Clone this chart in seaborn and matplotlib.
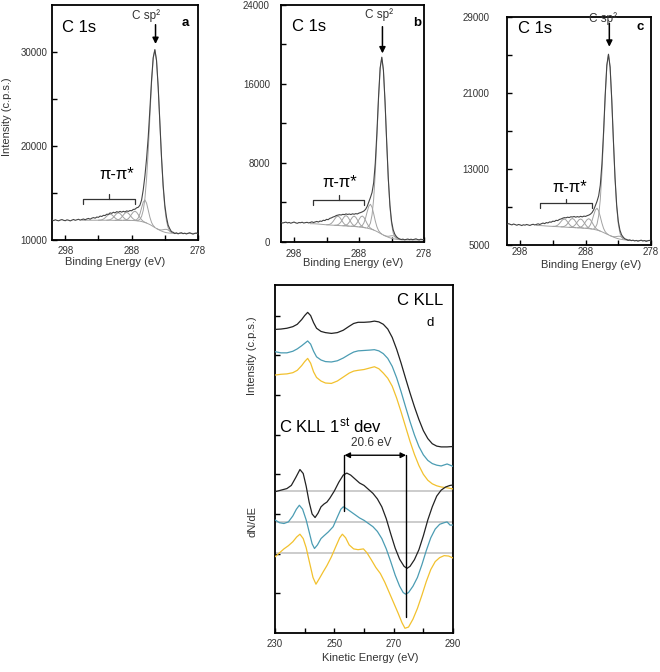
import matplotlib
matplotlib.use('Agg')
import matplotlib.pyplot as plt
import matplotlib.transforms as mtrans
from matplotlib.ticker import FixedLocator
import seaborn as sns

sns.set_theme(style='white')
plt.rcParams['font.family'] = ['Liberation Sans', 'DejaVu Sans']
plt.rcParams['mathtext.fontset'] = 'custom'
plt.rcParams['mathtext.rm'] = 'Liberation Sans'
plt.rcParams['mathtext.it'] = 'Liberation Sans:italic'
plt.rcParams['mathtext.bf'] = 'Liberation Sans:bold'
plt.rcParams['axes.unicode_minus'] = False

# ---------------- XPS C 1s data (binding energy grid, 0.25 eV steps 300 -> 278) --------------
binding_energy = [300 - 0.25 * i for i in range(89)]

raw_a = [12130, 12060, 12150, 12080, 12040, 12120, 12170, 12090, 12050, 12140,
         12100, 12030, 12110, 12180, 12090, 12150, 12200, 12110, 12180, 12230,
         12150, 12240, 12290, 12210, 12320, 12380, 12320, 12440, 12410, 12540,
         12500, 12620, 12600, 12740, 12720, 12880, 12830, 12950, 12880, 13010,
         12950, 13040, 12960, 13050, 12980, 13090, 13040, 13130, 13110, 13250,
         13270, 13420, 13480, 13700, 14250, 15350, 16800, 18650, 20950, 23900,
         27000, 29400, 30250, 29100, 26270, 22550, 18830, 15800, 13700, 12420,
         11570, 11190, 10880, 10820, 10680, 10760, 10650, 10730, 10770, 10670,
         10720, 10640, 10710, 10770, 10690, 10620, 10700, 10740, 10650]
raw_b = [1990, 1920, 1970, 2010, 1930, 1980, 1900, 1960, 2020, 1940,
         1890, 1970, 1950, 2000, 1920, 1960, 1990, 1930, 1980, 2040,
         1970, 2030, 2080, 2020, 2120, 2090, 2200, 2170, 2290, 2260,
         2390, 2440, 2530, 2580, 2680, 2720, 2760, 2730, 2800, 2770,
         2840, 2790, 2830, 2780, 2850, 2810, 2870, 2840, 2930, 2980,
         3050, 3140, 3300, 3600, 4050, 4500, 5010, 6000, 8000, 11100,
         14700, 17640, 18710, 17410, 14180, 10170, 6450, 3740, 2100, 1240,
         790, 540, 390, 300, 250, 290, 220, 260, 300, 240,
         280, 230, 270, 320, 250, 210, 280, 240, 260]
raw_c = [7180, 7250, 7170, 7120, 7210, 7150, 7080, 7160, 7120, 7050,
         7130, 7090, 7160, 7110, 7060, 7140, 7180, 7110, 7170, 7230,
         7160, 7240, 7310, 7250, 7360, 7320, 7430, 7400, 7510, 7480,
         7600, 7570, 7690, 7740, 7820, 7880, 7860, 7930, 7890, 7970,
         7950, 8000, 7930, 7990, 7940, 8020, 7960, 8040, 8010, 8090,
         8150, 8250, 8420, 8720, 9150, 9600, 10180, 11300, 13530, 16900,
         20790, 23930, 25080, 23720, 20300, 16050, 12100, 9220, 7480, 6560,
         6070, 5830, 5640, 5590, 5490, 5540, 5460, 5510, 5430, 5480,
         5400, 5460, 5510, 5420, 5470, 5380, 5440, 5490, 5410]

base_a = ([12100] * 37 + [12090] * 8 + [12080] * 4 +
          [12070, 12060, 12045, 12030, 12000, 11960, 11910, 11860, 11800, 11720,
           11640, 11540, 11430, 11320, 11220, 11120, 11030, 10950, 10880, 10820,
           10780, 10750, 10730, 10720, 10710] + [10700] * 15)
base_b = ([1850] * 21 + [1840, 1830, 1815, 1800, 1785, 1770, 1755, 1740] +
          [1730, 1720, 1710, 1700, 1690, 1680, 1670, 1660, 1650, 1640, 1630, 1620,
           1610, 1600, 1590, 1580, 1570] +
          [1555, 1540, 1520, 1500, 1480, 1455, 1430, 1400, 1360, 1320, 1270, 1210,
           1140, 1060, 970, 880, 790, 700, 620, 550, 480, 420, 370, 330, 300, 275,
           255, 240, 230, 222, 215] + [210] * 12)
base_c = ([7050] * 21 + [7040, 7030, 7015, 7000, 6990, 6980, 6970, 6960] +
          [6950, 6940, 6930, 6920, 6910, 6900, 6890, 6880, 6870, 6860, 6850, 6840,
           6830, 6820, 6810, 6800, 6790, 6780, 6770, 6760] +
          [6740, 6720, 6700, 6680, 6650, 6610, 6570, 6520, 6460, 6390, 6310, 6230,
           6150, 6070, 5990, 5910, 5840, 5770, 5710, 5660, 5620, 5590, 5560, 5540,
           5520, 5505, 5490, 5480] + [5470] * 12)

# fitted component peak shapes (half profiles, 0.25 eV steps from the centre)
shape_templates = {
    'pi':     [1, 0.902, 0.662, 0.395, 0.192, 0.076, 0.024, 0.006],
    'narrow': [1, 0.882, 0.607, 0.325, 0.135, 0.044, 0.011],
    'main_a': [1, 0.946, 0.801, 0.607, 0.411, 0.249, 0.135, 0.066, 0.029, 0.011, 0.004],
    'main_bc': [1, 0.933, 0.757, 0.535, 0.328, 0.175, 0.082, 0.033, 0.012, 0.004],
}
comp_centers = [291.25, 290.0, 288.75, 287.5, 286.0, 284.5, 282.75]
comp_centers_bc = [291.25, 290.0, 288.75, 287.5, 286.25, 284.5, 282.75]
comp_heights_a = [650, 800, 850, 1000, 2400, 18900, 350]
comp_heights_b = [950, 1050, 1050, 1150, 2500, 17900, 300]
comp_heights_c = [850, 950, 950, 1050, 2300, 19000, 300]
comp_shapes_a = ['pi', 'pi', 'pi', 'pi', 'narrow', 'main_a', 'narrow']
comp_shapes_bc = ['pi', 'pi', 'pi', 'pi', 'pi', 'main_bc', 'narrow']

# ---------------- Auger C KLL data (panel d) ----------------
auger_energy = [230, 232, 234, 236, 237.5, 239, 240, 241, 242, 243,
                244, 245.5, 247, 249, 251, 253, 255, 256.5, 258, 260,
                262, 263.5, 265, 266.5, 268, 269.5, 271, 272.5, 274, 275.5,
                277, 278.5, 280, 281.5, 283, 284.5, 286, 288, 290]
auger_black = [7.65, 7.66, 7.68, 7.72, 7.78, 7.90, 8.00, 8.08, 8.00, 7.82,
               7.68, 7.60, 7.57, 7.55, 7.57, 7.63, 7.73, 7.80, 7.83, 7.83,
               7.84, 7.86, 7.84, 7.78, 7.66, 7.45, 7.15, 6.80, 6.42, 6.05,
               5.70, 5.38, 5.10, 4.90, 4.77, 4.71, 4.69, 4.69, 4.70]
auger_teal = [7.09, 7.06, 7.06, 7.10, 7.16, 7.24, 7.30, 7.36, 7.28, 7.10,
              6.96, 6.88, 6.84, 6.83, 6.86, 6.93, 7.02, 7.08, 7.11, 7.12,
              7.13, 7.14, 7.11, 7.04, 6.92, 6.72, 6.43, 6.08, 5.70, 5.33,
              4.99, 4.70, 4.49, 4.35, 4.27, 4.23, 4.21, 4.26, 4.20]
auger_yellow = [6.50, 6.52, 6.53, 6.56, 6.62, 6.74, 6.84, 6.92, 6.80, 6.58,
                6.44, 6.35, 6.30, 6.29, 6.35, 6.45, 6.55, 6.60, 6.62, 6.64,
                6.68, 6.71, 6.66, 6.55, 6.42, 6.22, 5.92, 5.57, 5.20, 4.83,
                4.50, 4.22, 4.00, 3.85, 3.76, 3.71, 3.68, 3.66, 3.63]

dev_black_e = [230, 232, 234, 235.5, 237, 238.4, 239.5, 240.5, 241.5, 242.5,
               243.5, 244.5, 245.5, 246.5, 247.5, 248.5, 250, 251.5, 253, 254.2,
               255.5, 257, 258.5, 260, 261.5, 263, 264.5, 266, 267.5, 269,
               270.5, 272, 273.5, 274.5, 275.5, 277, 278.5, 280, 281.5, 283,
               284.5, 286, 287.5, 289, 290]
dev_black = [3.56, 3.60, 3.64, 3.72, 3.92, 4.12, 4.02, 3.70, 3.30, 3.00,
             2.91, 3.02, 3.18, 3.25, 3.30, 3.40, 3.58, 3.80, 3.98, 4.03,
             3.98, 3.88, 3.78, 3.72, 3.62, 3.52, 3.38, 3.18, 2.88, 2.50,
             2.14, 1.86, 1.68, 1.63, 1.68, 1.85, 2.10, 2.45, 2.85, 3.18,
             3.45, 3.60, 3.68, 3.72, 3.73]
dev_teal_e = [230, 231.5, 233, 234.5, 236, 237.2, 238.2, 239.3, 240.5, 241.5,
              242.5, 243.3, 244.3, 245.5, 246.5, 248, 249.6, 251, 252.2, 253,
              254, 255.5, 257, 258.5, 260, 261.5, 263, 264.5, 266, 267.5,
              269, 270.5, 272, 273.2, 274, 275, 276.5, 278, 279.5, 281,
              282.5, 284, 285.5, 287, 288, 289, 290]
dev_teal = [2.85, 2.78, 2.76, 2.80, 2.95, 3.12, 3.22, 3.12, 2.85, 2.55,
            2.25, 2.13, 2.22, 2.38, 2.45, 2.55, 2.68, 2.92, 3.12, 3.18,
            3.14, 3.06, 2.98, 2.90, 2.84, 2.76, 2.68, 2.56, 2.38, 2.12,
            1.80, 1.46, 1.18, 1.02, 0.98, 1.02, 1.18, 1.40, 1.72, 2.08,
            2.40, 2.62, 2.74, 2.78, 2.80, 2.72, 2.72]
dev_yellow_e = [230, 231.5, 233, 234.5, 236, 237.3, 238.4, 239.5, 240.5, 241.5,
                242.8, 243.8, 245, 246.3, 247.5, 249, 250.5, 251.8, 252.7, 253.8,
                255, 256.5, 258, 259.8, 261, 262.5, 264, 265.5, 267, 268.5,
                270, 271.5, 272.8, 273.8, 275, 276.5, 278, 279.5, 281, 282.5,
                284, 285.5, 287, 288.5, 290]
dev_yellow = [1.92, 2.02, 2.12, 2.20, 2.30, 2.42, 2.49, 2.38, 2.15, 1.82,
              1.40, 1.23, 1.38, 1.55, 1.70, 1.92, 2.18, 2.40, 2.49, 2.40,
              2.22, 2.12, 2.10, 2.12, 2.02, 1.84, 1.65, 1.50, 1.28, 1.02,
              0.76, 0.50, 0.26, 0.12, 0.15, 0.35, 0.62, 0.95, 1.30, 1.60,
              1.80, 1.90, 1.95, 1.94, 1.89]
dev_zero_levels = [3.58, 2.80, 2.01]
peak_left_e, peak_right_e = 253.4, 274.2
shift_label = '20.6 eV'

# ---------------- styles ----------------
RAW_C = '#444444'
COMP_C = '#a2a2a2'
BLACK_C = '#222222'
TEAL_C = '#4b9cb3'
YELLOW_C = '#f2c12e'
TXT_C = '#333333'

fig = plt.figure(figsize=(6.6, 6.72), dpi=100)
fig.patch.set_facecolor('white')


def style_axes(ax, ypad, xpad):
    for sp in ax.spines.values():
        sp.set_visible(True)
        sp.set_color('black')
        sp.set_linewidth(1.3)
    ax.tick_params(which='both', direction='in', length=3.5, width=1,
                   color='black', labelcolor=TXT_C, labelsize=7,
                   left=True, bottom=True, top=False, right=False)
    ax.tick_params(axis='y', which='both', pad=ypad)
    ax.tick_params(axis='x', which='both', pad=xpad)
    ax.set_facecolor('white')
    ax.grid(False)


def draw_xps(ax, raw, base, centers, heights, shapes, ylim, yticks, yminor, ypad, xpad):
    sns.lineplot(x=binding_energy[18:], y=base[18:], ax=ax, color=COMP_C,
                 linewidth=0.7, zorder=2)
    for c, h, s in zip(centers, heights, shapes):
        half = shape_templates[s]
        prof = half[::-1] + half[1:]
        k = len(half) - 1
        i0 = int(round((300 - c) / 0.25))
        xs = binding_energy[i0 - k:i0 + k + 1]
        ys = [base[i0 - k + j] + h * prof[j] for j in range(2 * k + 1)]
        sns.lineplot(x=xs, y=ys, ax=ax, color=COMP_C, linewidth=0.7, zorder=2)
    sns.lineplot(x=binding_energy, y=raw, ax=ax, color=RAW_C, linewidth=0.8, zorder=3)
    ax.set_xlim(300, 278)
    ax.set_ylim(*ylim)
    ax.set_xticks([298, 288, 278])
    ax.xaxis.set_minor_locator(FixedLocator([293, 283]))
    ax.set_yticks(yticks)
    ax.set_yticklabels([str(v) for v in yticks])
    ax.yaxis.set_minor_locator(FixedLocator(yminor))
    ax.set_xlabel('')
    ax.set_ylabel('')
    style_axes(ax, ypad, xpad)


def annotate_xps(ax, c1s_pos, letter, letter_pos, sp2_pos, arrow, bracket, pi_pos, xlab_pos):
    trans = mtrans.blended_transform_factory(ax.transData, ax.transAxes)
    ax.text(c1s_pos[0], c1s_pos[1], 'C 1s', transform=ax.transAxes, ha='left',
            va='center', fontsize=12, color='black')
    ax.text(letter_pos[0], letter_pos[1], letter, transform=ax.transAxes, ha='center',
            va='center', fontsize=9.5, fontweight='bold', color='black')
    ax.text(sp2_pos[0], sp2_pos[1], 'C sp²', ha='center', va='center', fontsize=8.5,
            color=TXT_C, zorder=5)
    ax.annotate('', xy=(arrow[0], arrow[1]), xytext=(arrow[0], arrow[2]),
                arrowprops=dict(arrowstyle='-|>', color='black', lw=1.1,
                                mutation_scale=9, shrinkA=0, shrinkB=0), zorder=6)
    x1, x2, y0 = bracket
    xm = (x1 + x2) / 2
    ax.plot([x1, x1, x2, x2], [y0 - 0.02, y0, y0, y0 - 0.02], transform=trans,
            color='#333333', lw=0.9)
    ax.plot([xm, xm], [y0, y0 + 0.02], transform=trans, color='#333333', lw=0.9)
    ax.text(pi_pos[0], pi_pos[1], 'π-π*', transform=trans, ha='center', va='center',
            fontsize=12, color='black')
    ax.text(xlab_pos[0], xlab_pos[1], 'Binding Energy (eV)', transform=ax.transAxes,
            ha='center', va='center', fontsize=8, color=TXT_C)


# ---------------- panel a ----------------
ax_a = fig.add_axes([0.0788, 0.6429, 0.2212, 0.3497])
draw_xps(ax_a, raw_a, base_a, comp_centers, comp_heights_a, comp_shapes_a,
         (10000, 35000), [10000, 20000, 30000], [15000, 25000], 3.5, 4)
annotate_xps(ax_a, (0.068, 0.906), 'a', (0.911, 0.922), (285.86, 33900),
             (284.4, 30850, 32900), (295.26, 287.42, 0.175), (290.2, 0.277),
             (0.434, -0.095))
ax_a.text(-0.308, 0.523, 'Intensity (c.p.s.)', transform=ax_a.transAxes, rotation=90,
          ha='center', va='center', fontsize=8, color=TXT_C)

# ---------------- panel b ----------------
ax_b = fig.add_axes([0.4258, 0.6399, 0.2167, 0.3527])
draw_xps(ax_b, raw_b, base_b, comp_centers_bc, comp_heights_b, comp_shapes_bc,
         (0, 24000), [0, 8000, 16000, 24000], [4000, 12000, 20000], 8, 5)
annotate_xps(ax_b, (0.075, 0.908), 'b', (0.949, 0.925), (284.9, 23000),
             (284.4, 19100, 21800), (295.12, 287.18, 0.177), (290.9, 0.25),
             (0.503, -0.09))

# ---------------- panel c ----------------
ax_c = fig.add_axes([0.7682, 0.6354, 0.2182, 0.3393])
draw_xps(ax_c, raw_c, base_c, comp_centers_bc, comp_heights_c, comp_shapes_bc,
         (5000, 29000), [5000, 13000, 21000, 29000], [9000, 17000, 25000], 12.5, 1.5)
annotate_xps(ax_c, (0.074, 0.95), 'c', (0.924, 0.955), (285.4, 28860),
             (284.37, 25870, 28340), (294.96, 287.06, 0.183), (290.4, 0.253),
             (0.583, -0.086))

# ---------------- panel d ----------------
ax_d = fig.add_axes([0.4167, 0.0580, 0.2697, 0.5179])
for lvl in dev_zero_levels:
    ax_d.axhline(lvl, color='#c4c4c4', lw=1.2, zorder=1)
sns.lineplot(x=auger_energy, y=auger_black, ax=ax_d, color=BLACK_C, linewidth=0.9, zorder=3)
sns.lineplot(x=auger_energy, y=auger_teal, ax=ax_d, color=TEAL_C, linewidth=0.9, zorder=3)
sns.lineplot(x=auger_energy, y=auger_yellow, ax=ax_d, color=YELLOW_C, linewidth=0.9, zorder=3)
sns.lineplot(x=dev_black_e, y=dev_black, ax=ax_d, color=BLACK_C, linewidth=0.9, zorder=3)
sns.lineplot(x=dev_teal_e, y=dev_teal, ax=ax_d, color=TEAL_C, linewidth=0.9, zorder=3)
sns.lineplot(x=dev_yellow_e, y=dev_yellow, ax=ax_d, color=YELLOW_C, linewidth=0.9, zorder=3)
ax_d.plot([peak_left_e, peak_left_e], [4.48, 3.08], color='black', lw=1.0, zorder=4)
ax_d.plot([peak_right_e, peak_right_e], [4.48, 0.41], color='black', lw=1.0, zorder=4)
ax_d.annotate('', xy=(peak_right_e, 4.48), xytext=(peak_left_e, 4.48),
              arrowprops=dict(arrowstyle='<|-|>', color='black', lw=1.0,
                              mutation_scale=8, shrinkA=0, shrinkB=0), zorder=5)
ax_d.text((peak_left_e + peak_right_e) / 2 - 1.2, 4.79, shift_label, ha='center',
          va='center', fontsize=8.5, color=TXT_C)
ax_d.text(278.8, 8.37, 'C KLL', ha='center', va='center', fontsize=12, color='black')
ax_d.text(282.2, 7.80, 'd', ha='center', va='center', fontsize=9.5, color='black')
ax_d.text(231.45, 5.20, r'C KLL 1$^{\mathrm{st}}$ dev', ha='left', va='center',
          fontsize=12, color='black')
ax_d.set_xlim(230, 290)
ax_d.set_ylim(0, 8.77)
ax_d.set_xticks([230, 250, 270, 290])
ax_d.xaxis.set_minor_locator(FixedLocator([240, 260, 280]))
ax_d.set_yticks([1, 2, 3, 4, 5, 6, 7, 8])
ax_d.set_yticklabels([])
ax_d.set_xlabel('')
ax_d.set_ylabel('')
style_axes(ax_d, 3, 4)
ax_d.text(-0.129, 0.796, 'Intensity (c.p.s.)', transform=ax_d.transAxes, rotation=90,
          ha='center', va='center', fontsize=8, color=TXT_C)
ax_d.text(-0.129, 0.32, 'dN/dE', transform=ax_d.transAxes, rotation=90,
          ha='center', va='center', fontsize=8, color=TXT_C)
ax_d.text(0.537, -0.072, 'Kinetic Energy (eV)', transform=ax_d.transAxes,
          ha='center', va='center', fontsize=8, color=TXT_C)

fig.savefig('out.png', dpi=100, facecolor='white')
